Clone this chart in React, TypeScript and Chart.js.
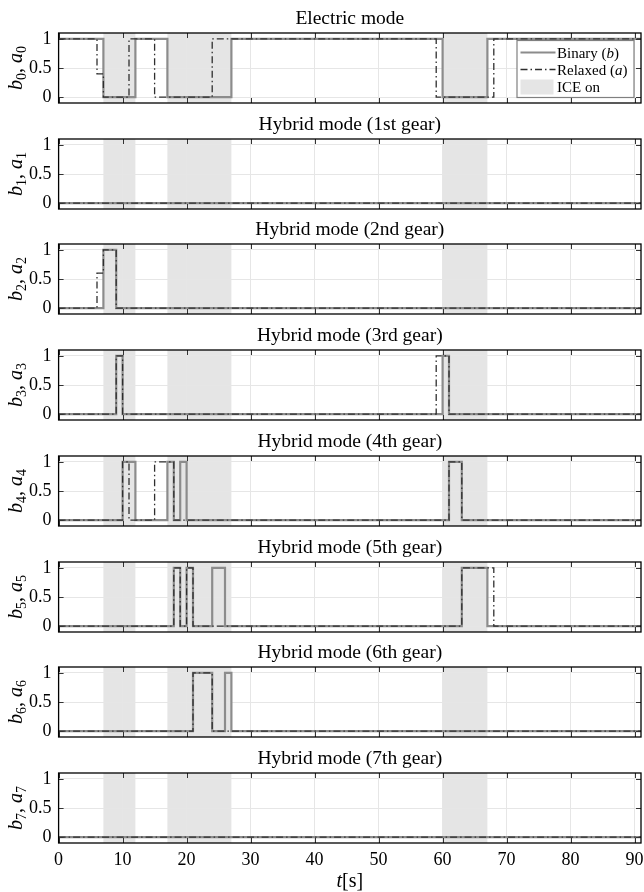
import React, { useEffect, useRef } from "react";
import { Chart, registerables } from "chart.js";

Chart.register(...registerables);

// ---------------- data ----------------
const TIME_MAX = 91;
const X_TICKS = [0, 10, 20, 30, 40, 50, 60, 70, 80, 90];
const Y_TICKS = [0, 0.5, 1];
const Y_TICK_LABELS = ["0", "0.5", "1"];

// ICE on intervals [s]
const ICE_START = [7, 17, 60];
const ICE_END = [12, 27, 67];

const TITLES = [
  "Electric mode",
  "Hybrid mode (1st gear)",
  "Hybrid mode (2nd gear)",
  "Hybrid mode (3rd gear)",
  "Hybrid mode (4th gear)",
  "Hybrid mode (5th gear)",
  "Hybrid mode (6th gear)",
  "Hybrid mode (7th gear)",
];

// Binary (b) step signals: switching times and value held from that time on
const b0T = [0, 7, 12, 17, 27, 60, 67, 91];
const b0V = [1, 0, 1, 0, 1, 0, 1, 1];
const b1T = [0, 91];
const b1V = [0, 0];
const b2T = [0, 7, 9, 91];
const b2V = [0, 1, 0, 0];
const b3T = [0, 9, 10, 60, 61, 91];
const b3V = [0, 1, 0, 1, 0, 0];
const b4T = [0, 10, 12, 17, 18, 19, 20, 61, 63, 91];
const b4V = [0, 1, 0, 1, 0, 1, 0, 1, 0, 0];
const b5T = [0, 18, 19, 20, 21, 24, 26, 63, 67, 91];
const b5V = [0, 1, 0, 1, 0, 1, 0, 1, 0, 0];
const b6T = [0, 21, 24, 26, 27, 91];
const b6V = [0, 1, 0, 1, 0, 0];
const b7T = [0, 91];
const b7V = [0, 0];

// Relaxed (a) step signals
const a0T = [0, 6, 7, 11, 15, 24, 59, 68, 91];
const a0V = [1, 0.4, 0, 1, 0, 1, 0, 1, 1];
const a1T = [0, 91];
const a1V = [0, 0];
const a2T = [0, 6, 7, 9, 91];
const a2V = [0, 0.6, 1, 0, 0];
const a3T = [0, 9, 10, 59, 61, 91];
const a3V = [0, 1, 0, 1, 0, 0];
const a4T = [0, 10, 11, 15, 18, 61, 63, 91];
const a4V = [0, 1, 0, 1, 0, 1, 0, 0];
const a5T = [0, 18, 19, 20, 21, 63, 68, 91];
const a5V = [0, 1, 0, 1, 0, 1, 0, 0];
const a6T = [0, 21, 24, 91];
const a6V = [0, 1, 0, 0];
const a7T = [0, 91];
const a7V = [0, 0];

const BIN_T = [b0T, b1T, b2T, b3T, b4T, b5T, b6T, b7T];
const BIN_V = [b0V, b1V, b2V, b3V, b4V, b5V, b6V, b7V];
const REL_T = [a0T, a1T, a2T, a3T, a4T, a5T, a6T, a7T];
const REL_V = [a0V, a1V, a2V, a3V, a4V, a5V, a6V, a7V];

// ---------------- style ----------------
const SERIF = "'Liberation Serif', 'DejaVu Serif', serif";
const BINARY_COLOR = "#8c8c8c";
const RELAXED_COLOR = "#2e2e2e";
const SHADE_COLOR = "#e5e5e5";
const GRID_COLOR = "#e6e6e6";
const DASH_DOT = [7, 3, 1.5, 3];

const PANEL_PERIOD = 105.714;
const PLOT_TOP = 33;
const PLOT_H = 70;
const Y_AXIS_W = 58.6;
const RIGHT_PAD = 3;

function pts(ts: number[], vs: number[]) {
  return ts.map((t, i) => ({ x: t, y: vs[i] }));
}

function drawParts(
  ctx: CanvasRenderingContext2D,
  parts: { t: string; font: string; dy: number }[],
  x0: number,
  y0: number,
  align: "left" | "center"
) {
  let w = 0;
  for (const p of parts) {
    ctx.font = p.font;
    w += ctx.measureText(p.t).width;
  }
  let x = align === "center" ? x0 - w / 2 : x0;
  ctx.textAlign = "left";
  ctx.textBaseline = "alphabetic";
  for (const p of parts) {
    ctx.font = p.font;
    ctx.fillText(p.t, x, y0 + p.dy);
    x += ctx.measureText(p.t).width;
  }
}

function Panel({ index, top, height, isLast }: { index: number; top: number; height: number; isLast: boolean }) {
  const ref = useRef<HTMLCanvasElement | null>(null);

  useEffect(() => {
    const canvas = ref.current;
    if (!canvas) return;
    const xAxisH = height - PLOT_TOP - PLOT_H;

    const panelPlugin = {
      id: "panelDecor" + index,
      beforeDraw(chart: any) {
        const { ctx, chartArea } = chart;
        const { left, right, top: t, bottom } = chartArea;
        const xs = chart.scales.x;
        ctx.save();
        ctx.fillStyle = SHADE_COLOR;
        for (let i = 0; i < ICE_START.length; i++) {
          const x0 = xs.getPixelForValue(ICE_START[i]);
          const x1 = xs.getPixelForValue(ICE_END[i]);
          ctx.fillRect(x0, t, x1 - x0, bottom - t);
        }
        // title
        ctx.fillStyle = "#000";
        ctx.font = `19.5px ${SERIF}`;
        ctx.textAlign = "center";
        ctx.textBaseline = "alphabetic";
        ctx.fillText(TITLES[index], (left + right) / 2, 24);
        // y label  b_i, a_i
        ctx.translate(16, (t + bottom) / 2);
        ctx.rotate(-Math.PI / 2);
        const sub = String(index);
        drawParts(
          ctx,
          [
            { t: "b", font: `italic 20px ${SERIF}`, dy: 0 },
            { t: sub, font: `14px ${SERIF}`, dy: 3.5 },
            { t: ", ", font: `20px ${SERIF}`, dy: 0 },
            { t: "a", font: `italic 20px ${SERIF}`, dy: 0 },
            { t: sub, font: `14px ${SERIF}`, dy: 3.5 },
          ],
          0,
          6,
          "center"
        );
        ctx.restore();
      },
      afterDatasetsDraw(chart: any) {
        const { ctx, chartArea } = chart;
        const { left, right, top: t, bottom } = chartArea;
        const xs = chart.scales.x;
        const ys = chart.scales.y;
        ctx.save();
        // inward tick marks
        ctx.strokeStyle = "#333";
        ctx.lineWidth = 1;
        ctx.beginPath();
        for (const v of X_TICKS) {
          const px = Math.round(xs.getPixelForValue(v)) + 0.5;
          ctx.moveTo(px, bottom);
          ctx.lineTo(px, bottom - 5);
          ctx.moveTo(px, t);
          ctx.lineTo(px, t + 5);
        }
        for (const v of Y_TICKS) {
          const py = Math.round(ys.getPixelForValue(v)) + 0.5;
          ctx.moveTo(left, py);
          ctx.lineTo(left + 5, py);
          ctx.moveTo(right, py);
          ctx.lineTo(right - 5, py);
        }
        ctx.stroke();
        // frame
        ctx.strokeStyle = "#000";
        ctx.lineWidth = 1.3;
        ctx.strokeRect(left, t, right - left, bottom - t);

        if (index === 0) {
          // legend
          const bw = 117;
          const bh = 57;
          const bx = right - 7 - bw;
          const by = t + 7.5;
          ctx.fillStyle = "#fff";
          ctx.fillRect(bx, by, bw, bh);
          ctx.strokeStyle = "#808080";
          ctx.lineWidth = 1.2;
          ctx.strokeRect(bx, by, bw, bh);
          const rows = [by + 12, by + 29, by + 46.5];
          // binary sample
          ctx.strokeStyle = BINARY_COLOR;
          ctx.lineWidth = 2.2;
          ctx.beginPath();
          ctx.moveTo(bx + 3.5, rows[0]);
          ctx.lineTo(bx + 38.5, rows[0]);
          ctx.stroke();
          // relaxed sample
          ctx.strokeStyle = RELAXED_COLOR;
          ctx.lineWidth = 1.3;
          ctx.setLineDash(DASH_DOT);
          ctx.beginPath();
          ctx.moveTo(bx + 3.5, rows[1]);
          ctx.lineTo(bx + 38.5, rows[1]);
          ctx.stroke();
          ctx.setLineDash([]);
          // ICE patch
          ctx.fillStyle = SHADE_COLOR;
          ctx.fillRect(bx + 3.5, rows[2] - 7.5, 33, 15);
          ctx.fillStyle = "#000";
          const f = `15px ${SERIF}`;
          const fi = `italic 15px ${SERIF}`;
          drawParts(ctx, [
            { t: "Binary (", font: f, dy: 0 },
            { t: "b", font: fi, dy: 0 },
            { t: ")", font: f, dy: 0 },
          ], bx + 40, rows[0] + 5, "left");
          drawParts(ctx, [
            { t: "Relaxed (", font: f, dy: 0 },
            { t: "a", font: fi, dy: 0 },
            { t: ")", font: f, dy: 0 },
          ], bx + 40, rows[1] + 5, "left");
          drawParts(ctx, [{ t: "ICE on", font: f, dy: 0 }], bx + 40, rows[2] + 5, "left");
        }

        if (isLast) {
          ctx.fillStyle = "#000";
          drawParts(ctx, [
            { t: "t", font: `italic 20px ${SERIF}`, dy: 0 },
            { t: "[s]", font: `20px ${SERIF}`, dy: 0 },
          ], (left + right) / 2, bottom + 44, "center");
        }
        ctx.restore();
      },
    };

    const chart = new Chart(canvas, {
      type: "line",
      data: {
        datasets: [
          {
            label: "Relaxed",
            data: pts(REL_T[index], REL_V[index]),
            stepped: true,
            borderColor: RELAXED_COLOR,
            borderWidth: 1.3,
            borderDash: DASH_DOT,
            pointRadius: 0,
            fill: false,
            order: 1,
          },
          {
            label: "Binary",
            data: pts(BIN_T[index], BIN_V[index]),
            stepped: true,
            borderColor: BINARY_COLOR,
            borderWidth: 2.2,
            pointRadius: 0,
            fill: false,
            order: 2,
          },
        ],
      },
      options: {
        animation: false,
        responsive: false,
        devicePixelRatio: 1,
        layout: { padding: { top: PLOT_TOP, right: RIGHT_PAD, left: 0, bottom: 0 } },
        plugins: {
          legend: { display: false },
          tooltip: { enabled: false },
          title: { display: false },
        },
        events: [],
        scales: {
          x: {
            type: "linear",
            min: 0,
            max: TIME_MAX,
            afterBuildTicks: (s: any) => {
              s.ticks = X_TICKS.map((v) => ({ value: v }));
            },
            afterFit: (s: any) => {
              s.height = xAxisH;
              s.paddingLeft = 0;
              s.paddingRight = 0;
            },
            grid: { color: GRID_COLOR, lineWidth: 1, drawTicks: false },
            border: { display: false },
            ticks: {
              display: isLast,
              autoSkip: false,
              maxRotation: 0,
              padding: 6,
              color: "#000",
              font: { family: SERIF, size: 18 },
              callback: (v: any) => String(v),
            },
          },
          y: {
            type: "linear",
            min: -0.1,
            max: 1.1,
            afterBuildTicks: (s: any) => {
              s.ticks = Y_TICKS.map((v) => ({ value: v }));
            },
            afterFit: (s: any) => {
              s.width = Y_AXIS_W;
              s.paddingTop = 0;
              s.paddingBottom = 0;
            },
            grid: { color: GRID_COLOR, lineWidth: 1, drawTicks: false },
            border: { display: false },
            ticks: {
              padding: 7,
              color: "#000",
              font: { family: SERIF, size: 18 },
              callback: (v: any) => {
                const i = Y_TICKS.indexOf(Number(v));
                return i >= 0 ? Y_TICK_LABELS[i] : String(v);
              },
            },
          },
        },
      },
      plugins: [panelPlugin],
    } as any);

    return () => chart.destroy();
  }, [index, top, height, isLast]);

  return (
    <canvas
      ref={ref}
      width={644}
      height={height}
      style={{ position: "absolute", left: 0, top, width: 644, height, display: "block" }}
    />
  );
}

export default function App() {
  const tops = TITLES.map((_, i) => Math.round(i * PANEL_PERIOD));
  return (
    <div style={{ position: "absolute", left: 0, top: 0, width: 644, height: 892, background: "#fff", overflow: "hidden" }}>
      {TITLES.map((_, i) => {
        const isLast = i === TITLES.length - 1;
        const h = isLast ? 892 - tops[i] : tops[i + 1] - tops[i];
        return <Panel key={i} index={i} top={tops[i]} height={h} isLast={isLast} />;
      })}
    </div>
  );
}
